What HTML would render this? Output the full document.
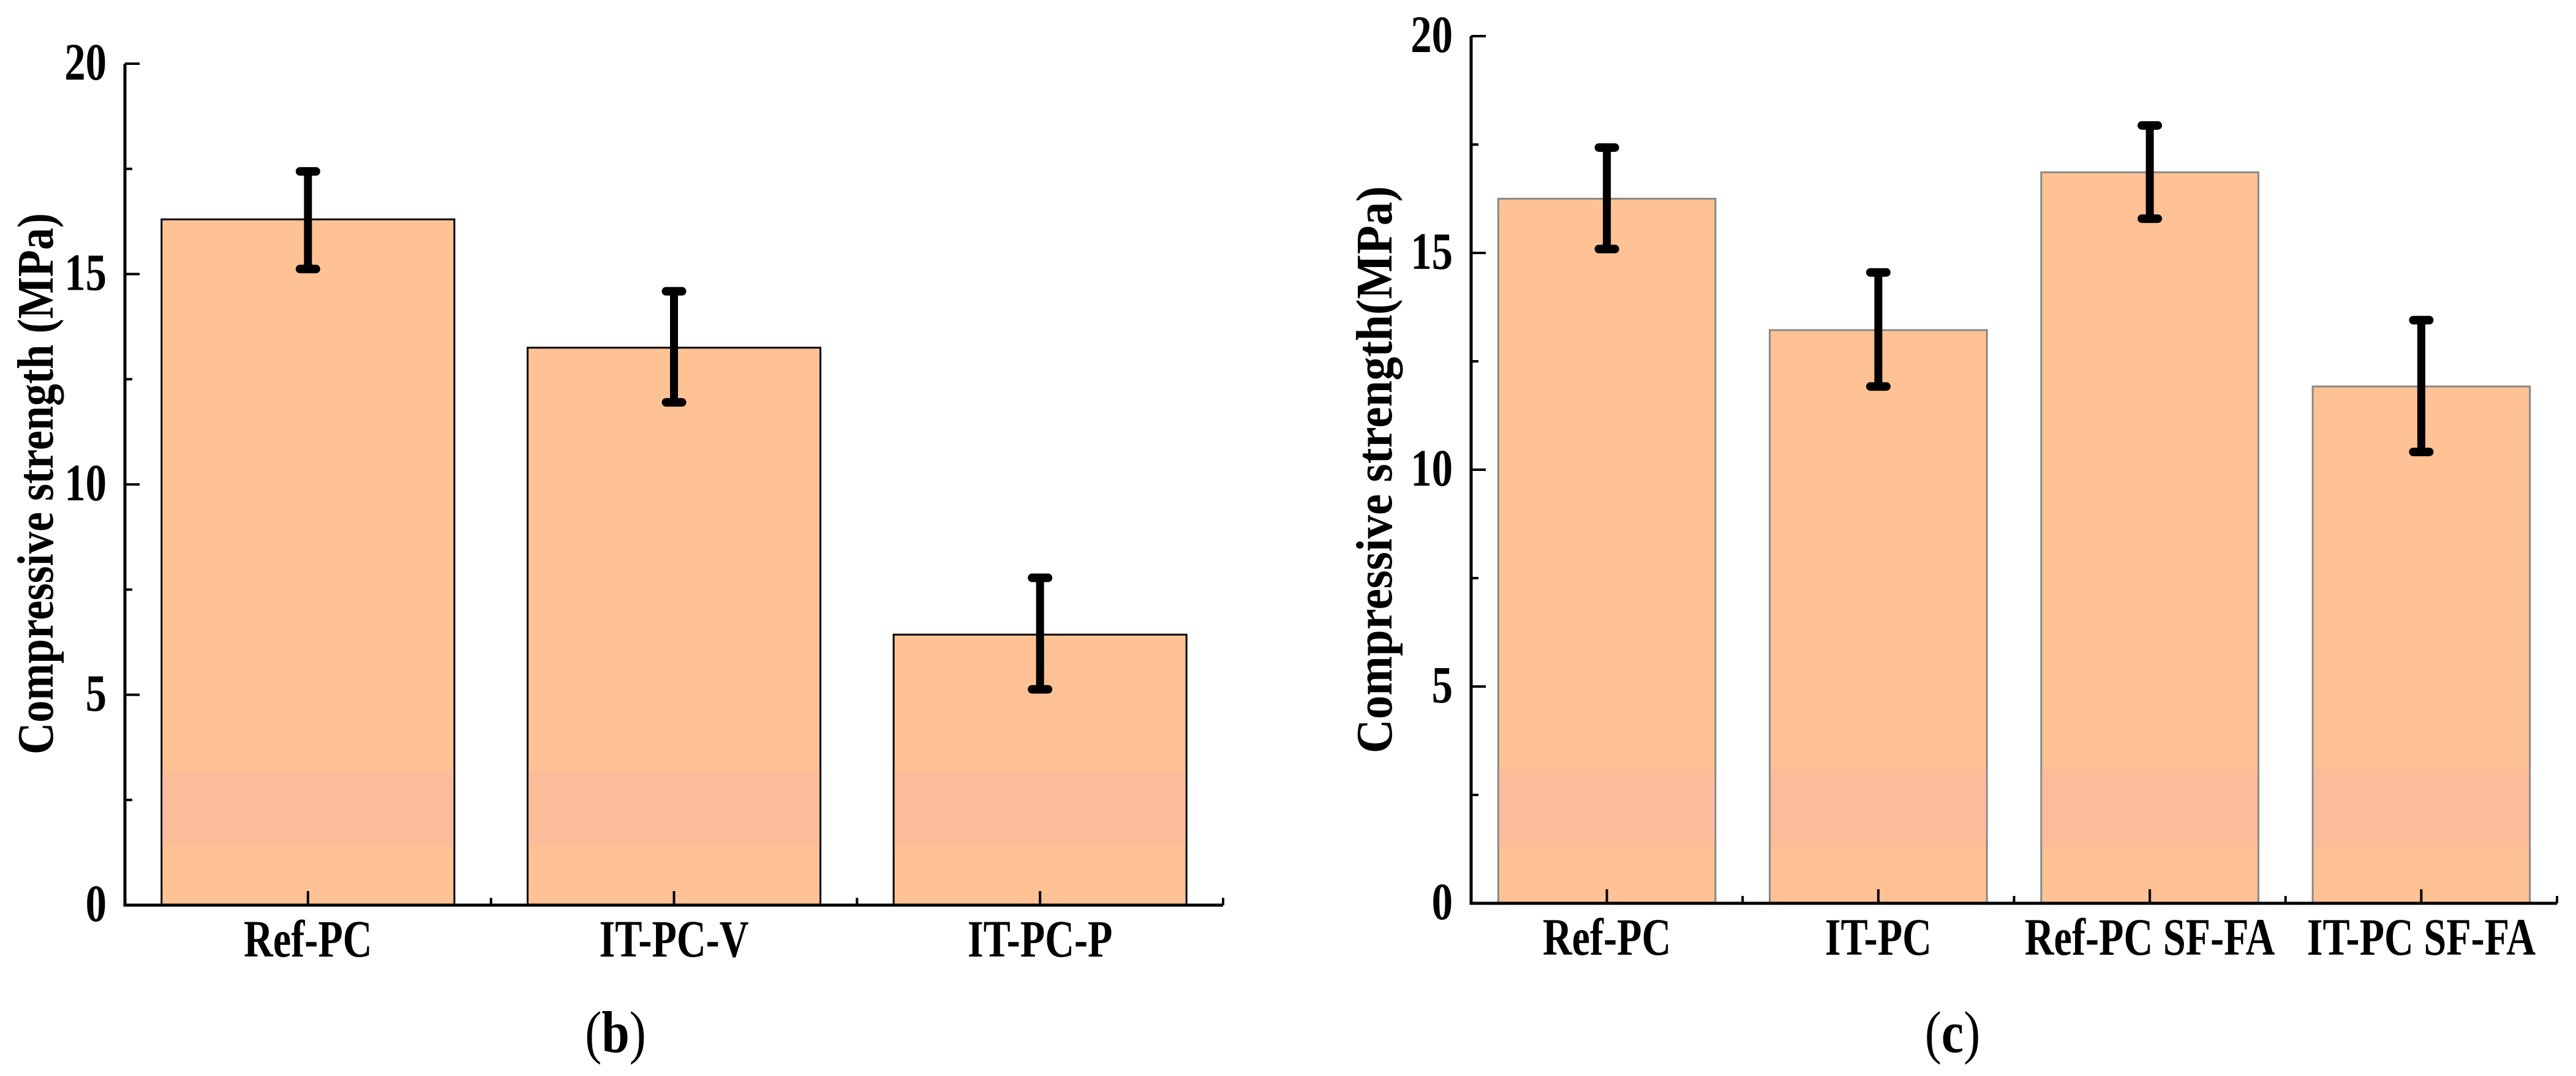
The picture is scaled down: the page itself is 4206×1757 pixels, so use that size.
<!DOCTYPE html>
<html><head><meta charset="utf-8"><style>
html,body{margin:0;padding:0;background:#fff;}
svg{display:block;font-family:"Liberation Serif",serif;font-weight:bold;}
</style></head><body>
<svg id="fig" width="4206" height="1757" viewBox="0 0 4206 1757" xmlns="http://www.w3.org/2000/svg">
<g id="chartB"></g>
<g id="chartC"></g>
</svg>
<script>
const catsB = ["Ref-PC","IT-PC-V","IT-PC-P"];
const valsB = [16.3,13.25,6.43];
const errHiB = [17.44,14.59,7.78];
const errLoB = [15.12,11.95,5.13];
const catsC = ["Ref-PC","IT-PC","Ref-PC SF-FA","IT-PC SF-FA"];
const valsC = [16.25,13.22,16.86,11.92];
const errHiC = [17.43,14.55,17.94,13.45];
const errLoC = [15.09,11.92,15.79,10.41];
const yTicks = [0,5,10,15,20];
const yMinor = [2.5,7.5,12.5,17.5];

const NS="http://www.w3.org/2000/svg";
function mk(parent,tag,attrs){const e=document.createElementNS(NS,tag);for(const k in attrs)e.setAttribute(k,attrs[k]);parent.appendChild(e);return e;}

function drawChart(g,cfg,cats,vals,hi,lo){
  const x0=cfg.x0,x1=cfg.x1,y0=cfg.y0,yTop=cfg.yTop;
  const ys=v=>y0-(v/20)*(y0-yTop);
  const slot=(x1-x0)/cats.length;
  const xc=i=>x0+slot*(i+0.5);
  const bw=slot*0.8;
  cats.forEach((c,i)=>{
    const r=mk(g,'rect',{x:xc(i)-bw/2,y:ys(vals[i]),width:bw,height:y0-ys(vals[i]),fill:'#FFC294',stroke:cfg.edge,'stroke-width':3});
    
    
    const band=mk(g,'rect',{x:xc(i)-bw/2+1.5,y:ys(cfg.bandHi),width:bw-3,height:ys(cfg.bandLo)-ys(cfg.bandHi),fill:'#FCBC9A'});
    
    
    const eg=mk(g,'g',{stroke:'#000','stroke-linecap':'round'});
    
    
    mk(eg,'line',{x1:xc(i),x2:xc(i),y1:ys(hi[i]),y2:ys(lo[i]),'stroke-width':13});
    mk(eg,'line',{x1:xc(i)-13,x2:xc(i)+13,y1:ys(hi[i]),y2:ys(hi[i]),'stroke-width':14});
    mk(eg,'line',{x1:xc(i)-13,x2:xc(i)+13,y1:ys(lo[i]),y2:ys(lo[i]),'stroke-width':14});
    const t=mk(g,'text',{x:0,y:0,'text-anchor':'middle','font-size':86,transform:`translate(${xc(i)},${y0+84}) scale(0.77,1)`});
    t.textContent=c;
    
    
    mk(g,'line',{x1:xc(i),x2:xc(i),y1:y0,y2:y0-23,stroke:'#000','stroke-width':4});
    if(i>0) mk(g,'line',{x1:x0+slot*i,x2:x0+slot*i,y1:y0,y2:y0-12,stroke:'#000','stroke-width':4});
  });
  mk(g,'line',{x1:x1,x2:x1,y1:y0,y2:y0-12,stroke:'#000','stroke-width':4});
  const ax=mk(g,'path',{d:`M${x0} ${yTop} V${y0} H${x1}`,fill:'none',stroke:'#000','stroke-width':5});
  
  
  yTicks.forEach(v=>{
    mk(g,'line',{x1:x0,x2:x0+24,y1:ys(v),y2:ys(v),stroke:'#000','stroke-width':4});
    const t=mk(g,'text',{x:0,y:0,'text-anchor':'end','font-size':86,transform:`translate(${x0-30},${ys(v)+26}) scale(0.8,1)`});
    t.textContent=v;
    
    
  });
  yMinor.forEach(v=>mk(g,'line',{x1:x0,x2:x0+12,y1:ys(v),y2:ys(v),stroke:'#000','stroke-width':4}));
  const yt=mk(g,'text',{x:0,y:0,'text-anchor':'middle','font-size':84,transform:`translate(${cfg.titleX},${cfg.titleY}) rotate(-90) scale(${cfg.titleSx},1)`});
  yt.textContent=cfg.title;
  
  
  const cap=mk(g,'text',{x:0,y:0,'text-anchor':'middle','font-size':96,'font-weight':'normal',transform:`translate(${cfg.capX},1718) scale(0.85,1)`});
  cap.innerHTML=cfg.cap;
  
  
}
drawChart(document.getElementById('chartB'),{x0:204,x1:1997,y0:1478,yTop:104,edge:'#000',bandHi:3.2,bandLo:1.4,title:'Compressive strength (MPa)',titleX:86,titleY:790,titleSx:0.86,capX:1005,cap:'(<tspan font-weight="bold">b</tspan>)'},catsB,valsB,errHiB,errLoB);
drawChart(document.getElementById('chartC'),{x0:2402,x1:4175,y0:1475,yTop:59,edge:'#888',bandHi:3.1,bandLo:1.3,title:'Compressive strength(MPa)',titleX:2272,titleY:767,titleSx:0.92,capX:3188,cap:'(<tspan font-weight="bold">c</tspan>)'},catsC,valsC,errHiC,errLoC);
</script>
</body></html>
